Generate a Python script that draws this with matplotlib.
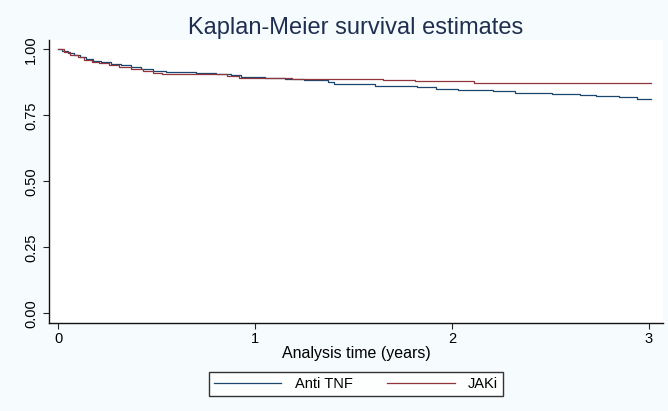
import matplotlib.pyplot as plt

plt.rcParams['font.family'] = ['Liberation Sans', 'DejaVu Sans']

# Kaplan-Meier step estimates (time in years, survival probability)
tnf_time = [0.0, 0.02, 0.05, 0.08, 0.11, 0.14, 0.18, 0.22, 0.27, 0.32, 0.37,
            0.42, 0.48, 0.55, 0.62, 0.70, 0.80, 0.88, 0.93, 1.05, 1.15, 1.25,
            1.37, 1.40, 1.61, 1.82, 1.92, 2.03, 2.21, 2.32, 2.51, 2.65, 2.73,
            2.85, 2.94, 3.01]
tnf_surv = [1.000, 0.995, 0.985, 0.977, 0.970, 0.962, 0.957, 0.952, 0.946,
            0.940, 0.933, 0.926, 0.919, 0.915, 0.913, 0.910, 0.906, 0.902,
            0.896, 0.893, 0.888, 0.882, 0.877, 0.870, 0.862, 0.856, 0.850,
            0.846, 0.841, 0.834, 0.831, 0.827, 0.823, 0.818, 0.812, 0.812]

jak_time = [0.0, 0.03, 0.06, 0.10, 0.13, 0.17, 0.21, 0.26, 0.31, 0.37, 0.43,
            0.48, 0.53, 0.86, 0.92, 1.00, 1.19, 1.65, 1.81, 2.11, 3.01]
jak_surv = [1.000, 0.990, 0.980, 0.970, 0.960, 0.953, 0.947, 0.940, 0.934,
            0.927, 0.918, 0.911, 0.906, 0.900, 0.893, 0.890, 0.886, 0.883,
            0.880, 0.871, 0.871]

groups = ['Anti TNF', 'JAKi']
colors = ['#1a476f', '#90353b']

fig = plt.figure(figsize=(6.68, 4.11), dpi=100, facecolor='#f6fbfd')
ax = fig.add_axes([0.0734, 0.2148, 0.9191, 0.6879])
ax.set_facecolor('white')

ax.step(tnf_time, tnf_surv, where='post', color=colors[0], lw=0.9, label=groups[0])
ax.step(jak_time, jak_surv, where='post', color=colors[1], lw=0.9, label=groups[1])

ax.set_xlim(-0.0457, 3.071)
ax.set_ylim(-0.0356, 1.0352)
ax.set_xticks([0, 1, 2, 3])
ax.set_yticks([0, 0.25, 0.5, 0.75, 1.0])
ax.set_yticklabels(['0.00', '0.25', '0.50', '0.75', '1.00'], rotation=90, va='center')
ax.tick_params(axis='both', labelsize=10.5, length=4, width=0.8, color='#222222')
ax.tick_params(axis='x', pad=3)
ax.tick_params(axis='y', pad=4)

for side in ['top', 'right']:
    ax.spines[side].set_visible(False)
for side in ['left', 'bottom']:
    ax.spines[side].set_linewidth(1.0)
    ax.spines[side].set_color('#111111')

ax.set_xlabel('Analysis time (years)', fontsize=11.5, labelpad=0)
ax.set_title('Kaplan-Meier survival estimates', fontsize=17, color='#1e2f4f', pad=4)

leg = fig.legend(loc='center', bbox_to_anchor=(0.533, 0.0657), ncol=2,
                 fontsize=10.5, frameon=True, fancybox=False, handlelength=4.6,
                 columnspacing=2.4, borderpad=0.35, handletextpad=0.9)
leg.get_frame().set_edgecolor('black')
leg.get_frame().set_linewidth(1.0)

fig.savefig('out.png', dpi=100, facecolor=fig.get_facecolor())
